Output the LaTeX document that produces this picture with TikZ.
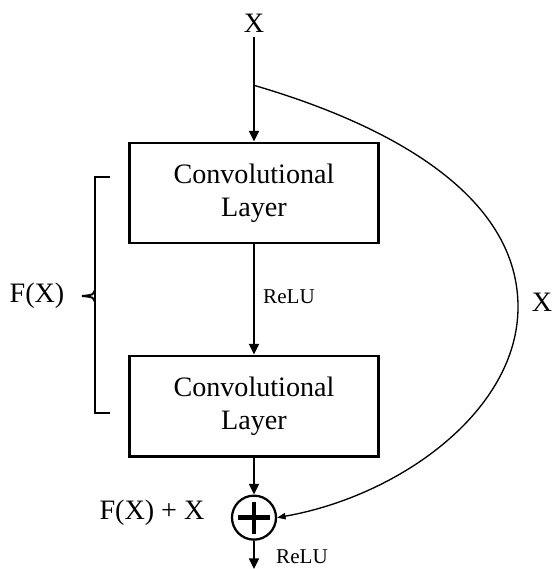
\documentclass[tikz,border=0pt]{standalone}
\usepackage{fontspec}
\setmainfont{Liberation Serif}
\usetikzlibrary{arrows.meta,positioning,calc}
\tikzset{
  layer/.style={rectangle, draw=black, line width=2.1pt, minimum width=6.2cm, minimum height=2.5cm, align=center, font=\fontsize{20}{23.5}\selectfont},
  sumnode/.style={circle, draw=black, line width=1.6pt, minimum size=1.1cm, inner sep=0pt},
  lbl/.style={font=\fontsize{20}{24}\selectfont},
  act/.style={font=\fontsize{15}{18}\selectfont},
  arr/.style={-{Triangle[length=7.5pt, width=7pt]}, draw=black, line width=1.4pt},
  skiparr/.style={-{Triangle[length=6pt, width=4.5pt]}, draw=black, line width=0.95pt},
  bracket/.style={draw=black, line width=1.4pt},
}

\begin{document}
\begin{tikzpicture}[x=0.025cm, y=-0.025cm, node distance=2.75cm]
\useasboundingbox (0,0) rectangle (553,569);
\node[layer] (conv1) at (254,193) {Convolutional\\Layer};
\node[layer, below=of conv1] (conv2) {Convolutional\\Layer};
\node[sumnode, below=0.925cm of conv2] (sum) {};
\node[lbl, above=2.6cm of conv1] (xin) {X};
\coordinate (split) at ($(xin.south)!0.46!(conv1.north)$);
\coordinate (bend) at (518,307);
\coordinate (out) at (sum.south |- 0,569);
\node[act] (relu1) at (289,297) {ReLU};
\node[act] (relu2) at (302,557) {ReLU};
\node[lbl] (fx) at (37,296) {F(X)};
\node[lbl] (fxx) at (152,513) {F(X) + X};
\node[lbl] (xskip) at (542,302) {X};
% plus sign inside the sum
\draw[line width=3.5pt] (sum.center) ++(-16,0) -- ++(32,0) (sum.center) ++(0,-16) -- ++(0,32);
% bracket for F(X)
\draw[bracket] (110,177) -- (95,177) -- (95,413) -- (110,413);
\draw[bracket] (95,290) .. controls (93,295) .. (82,296) .. controls (93,297) .. (95,302);
\draw[arr] (xin)--(conv1);
\draw[arr] (conv1)--(conv2);
\draw[arr] (conv2)--(sum);
\draw[arr] (sum)--(out);
\draw[skiparr] (split) .. controls +(147,43) and +(0,-107) .. (bend) .. controls +(0,103) and +(124,-22) .. (sum.east);
\end{tikzpicture}
\end{document}
